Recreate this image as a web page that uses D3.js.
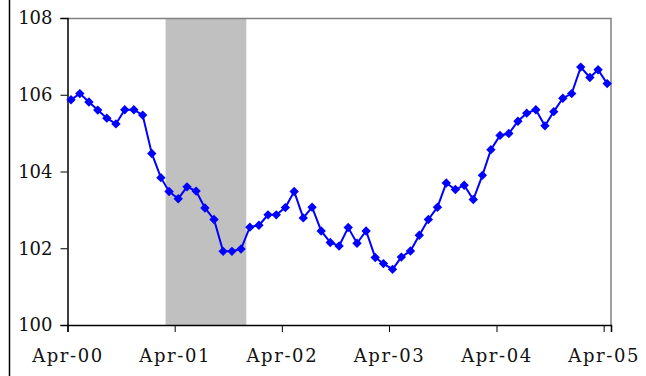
<!DOCTYPE html>
<html>
<head>
<meta charset="utf-8">
<script src="https://cdn.jsdelivr.net/npm/d3@7"></script>
<style>
  body { margin: 0; background: #fff; }
  svg { display: block; font-family: "DejaVu Serif", serif; }
</style>
</head>
<body>
<div id="chart"></div>
<script>
// --------------------------------------
// Data
// --------------------------------------

// monthly index, Apr-00 .. Apr-05
const firstMonth = "2000-04-13";
const values = [
  105.87, 106.03, 105.81, 105.60, 105.39, 105.24, 105.61, 105.61, 105.47, 104.47,
  103.84, 103.48, 103.29, 103.60, 103.49, 103.05, 102.75, 101.92, 101.92, 101.98,
  102.55, 102.60, 102.87, 102.87, 103.06, 103.48, 102.79, 103.07, 102.45, 102.15,
  102.06, 102.54, 102.13, 102.45, 101.76, 101.60, 101.45, 101.77, 101.93, 102.34,
  102.75, 103.07, 103.70, 103.53, 103.64, 103.27, 103.90, 104.57, 104.94, 104.99,
  105.31, 105.52, 105.61, 105.19, 105.56, 105.91, 106.03, 106.72, 106.45, 106.65,
  106.29
];
const recession = ["2001-03-01", "2001-12-01"];
const xDomain = ["2000-04-01", "2005-04-26"];
const yTicks = [100, 102, 104, 106, 108];

const parse = d3.timeParse("%Y-%m-%d");
const start = parse(firstMonth);
const data = values.map((v, i) => ({ date: d3.timeMonth.offset(start, i), value: v }));

// --------------------------------------
// Canvas
// --------------------------------------

const width = 646, height = 376;
const margin = { top: 18, right: 35, bottom: 51, left: 67.5 };
const innerwidth = width - margin.left - margin.right;
const innerheight = height - margin.top - margin.bottom;

const svg = d3.select("#chart")
  .append("svg")
    .attr("width", width)
    .attr("height", height)
    .attr("viewBox", [0, 0, width, height]);

// left frame line
svg.append("line")
  .attr("x1", 9.5).attr("x2", 9.5)
  .attr("y1", 0).attr("y2", height)
  .attr("stroke", "#000")
  .attr("stroke-width", 1.5);

const inner = svg.append("g")
  .attr("transform", `translate(${margin.left}, ${margin.top})`);

// --------------------------------------
// Scales
// --------------------------------------

const x = d3.scaleTime()
  .domain(xDomain.map(parse))
  .range([0, innerwidth]);

const y = d3.scaleLinear()
  .domain([100, 108])
  .range([innerheight, 0]);

// --------------------------------------
// Recession band and plot border
// --------------------------------------

inner.append("rect")
  .attr("x", x(parse(recession[0])))
  .attr("width", x(parse(recession[1])) - x(parse(recession[0])))
  .attr("y", 0)
  .attr("height", innerheight)
  .attr("fill", "#c0c0c0");

inner.append("path")
  .attr("d", `M0,0.5H${innerwidth}V${innerheight}`)
  .attr("fill", "none")
  .attr("stroke", "#808080")
  .attr("stroke-width", 1.5);

// --------------------------------------
// Axes
// --------------------------------------

const xAxis = inner.append("g")
  .attr("transform", `translate(0, ${innerheight})`)
  .call(d3.axisBottom(x)
    .ticks(d3.timeMonth.filter(d => d.getMonth() === 3))
    .tickFormat(d3.timeFormat("%b-%y"))
    .tickSizeOuter(0)
    .tickSize(7)
    .tickPadding(17));

const yAxis = inner.append("g")
  .call(d3.axisLeft(y)
    .tickValues(yTicks)
    .tickSizeOuter(0)
    .tickSize(7)
    .tickPadding(8));

[xAxis, yAxis].forEach(g => {
  g.select(".domain").attr("stroke", "#000").attr("stroke-width", 1.5);
  g.selectAll(".tick line").attr("stroke", "#000");
  g.selectAll("text")
    .attr("font-family", "DejaVu Serif, serif")
    .attr("font-size", 18)
    .attr("fill", "#111");
});

// wider spacing on the date labels
xAxis.selectAll("text").attr("letter-spacing", 1.6);

// --------------------------------------
// Line and markers
// --------------------------------------

const line = d3.line()
  .x(d => x(d.date))
  .y(d => y(d.value));

inner.append("path")
  .datum(data)
  .attr("d", line)
  .attr("fill", "none")
  .attr("stroke", "#0000ff")
  .attr("stroke-width", 2);

inner.selectAll(".marker")
  .data(data)
  .join("path")
    .attr("class", "marker")
    .attr("d", d3.symbol(d3.symbolSquare, 44))
    .attr("transform", d => `translate(${x(d.date)}, ${y(d.value)}) rotate(45)`)
    .attr("fill", "#0000ff");
</script>
</body>
</html>
